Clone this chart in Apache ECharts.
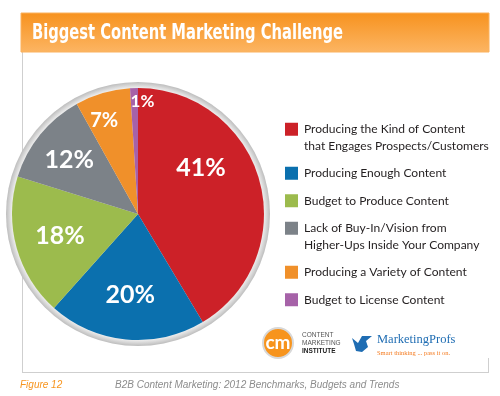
<!DOCTYPE html>
<html>
<head>
<meta charset="utf-8">
<script src="https://cdn.jsdelivr.net/npm/echarts@6/dist/echarts.min.js"></script>
<style>html,body{margin:0;padding:0;background:#fff;}#c{width:500px;height:396px;}</style>
</head>
<body>
<div id="c"></div>
<script>
// ---- data ----
var categories = [
  'Producing the Kind of Content\nthat Engages Prospects/Customers',
  'Producing Enough Content',
  'Budget to Produce Content',
  'Lack of Buy-In/Vision from\nHigher-Ups Inside Your Company',
  'Producing a Variety of Content',
  'Budget to License Content'
];
var values = [41, 20, 18, 12, 7, 1];
var titleText = 'Biggest Content Marketing Challenge';
var figureText = 'Figure 12';
var sourceText = 'B2B Content Marketing: 2012 Benchmarks, Budgets and Trends';

// ---- styles ----
var colors = ['#cc2128', '#0b70ae', '#9cbb4d', '#7c8288', '#f0902a', '#a662a8'];
var labelSizes = [25, 25, 25, 25, 20, 17];
var labelOffsets = [[-15, -24], [0, 0], [0, 0], [-6, -3], [-11, -16], [7, -32]];
var narrow = "'DejaVu Sans Condensed', 'Liberation Sans Narrow', sans-serif";
var center = [138, 214];
var LH = 16.5;

// width-fit helpers
var cnv = document.createElement('canvas').getContext('2d');
function textW(text, font) { cnv.font = font; return cnv.measureText(text).width; }
var titleFont = 'bold 22px ' + narrow;
var titleScale = 311 / (textW(titleText, titleFont) || 311);

var legendLongest = 'that Engages Prospects/Customers';
var fams = ["'DejaVu Sans Condensed'", 'Lato', "'Liberation Sans'", 'Roboto', "'Noto Sans'", 'Inter'];
var legendFam = fams[0], best = 1e9;
fams.forEach(function (f) {
  var w = textW(legendLongest, '14px ' + f + ', sans-serif');
  if (w < best) { best = w; legendFam = f; }
});
var legendSize = Math.min(14.5, 14 * 185 / best);

var chart = echarts.init(document.getElementById('c'), null, {renderer: 'canvas'});

var rich = {
  g: {width: 6, height: 13, lineHeight: LH},
  sp: {width: 19, lineHeight: LH},
  t: {fontSize: legendSize, fontFamily: legendFam + ', sans-serif', color: '#231f20', lineHeight: LH}
};
colors.forEach(function (c, i) { rich['c' + i] = {width: 13, height: 13, lineHeight: LH, backgroundColor: c}; });

var mainData = categories.map(function (n, i) {
  return {name: n, value: values[i], itemStyle: {color: colors[i]}};
});
var labelData = categories.map(function (n, i) {
  return {
    name: n, value: values[i],
    label: {fontSize: labelSizes[i], offset: labelOffsets[i]}
  };
});

var option = {
  animation: false,
  legend: {
    data: categories,
    orient: 'vertical',
    left: 275, top: 116,
    itemGap: 11,
    itemWidth: 0, itemHeight: 0,
    selectedMode: false,
    formatter: function (name) {
      var i = categories.indexOf(name);
      var lines = name.split('\n');
      var s = '{c' + i + '|}{g|}{t|' + lines[0] + '}';
      for (var k = 1; k < lines.length; k++) s += '\n{sp|}{t|' + lines[k] + '}';
      return s;
    },
    textStyle: {rich: rich, lineHeight: LH}
  },
  graphic: [
    {type: 'line', z: 0, shape: {x1: 22.5, y1: 52, x2: 22.5, y2: 372.5}, style: {stroke: '#cfcfcf', lineWidth: 1}},
    {type: 'line', z: 0, shape: {x1: 22, y1: 372.5, x2: 489, y2: 372.5}, style: {stroke: '#cfcfcf', lineWidth: 1}},
    {type: 'line', z: 0, shape: {x1: 488.5, y1: 358, x2: 488.5, y2: 372.5}, style: {stroke: '#cfcfcf', lineWidth: 1}},
    {type: 'rect', z: 0, shape: {x: 21, y: 13, width: 468, height: 39},
      style: {fill: new echarts.graphic.LinearGradient(0, 0, 0, 1, [
        {offset: 0, color: '#f7921e'}, {offset: 1, color: '#fcb563'}]),
        stroke: '#fbb25f', lineWidth: 1}},
    {type: 'text', z: 1, x: 32, y: 33, scaleX: titleScale,
      style: {text: titleText, fill: '#ffffff', font: titleFont, verticalAlign: 'middle'}},
    // CMI logo
    {type: 'circle', z: 1, shape: {cx: 278, cy: 343, r: 15}, style: {fill: '#f7941d', stroke: '#d8d8d8', lineWidth: 2}},
    {type: 'text', z: 2, x: 278, y: 343, style: {text: 'cm', fill: '#fff', font: 'bold 19px Lato, sans-serif', align: 'center', verticalAlign: 'middle'}},
    {type: 'text', z: 1, x: 302, y: 335, style: {text: 'CONTENT', fill: '#555', font: '6.5px "Liberation Sans", sans-serif', verticalAlign: 'middle'}},
    {type: 'text', z: 1, x: 302, y: 343, style: {text: 'MARKETING', fill: '#555', font: '6.5px "Liberation Sans", sans-serif', verticalAlign: 'middle'}},
    {type: 'text', z: 1, x: 302, y: 351, style: {text: 'INSTITUTE', fill: '#222', font: 'bold 6.5px "Liberation Sans", sans-serif', verticalAlign: 'middle'}},
    // MarketingProfs logo
    {type: 'polygon', z: 1, shape: {points: [[352, 338], [358, 343], [362, 336], [372, 336], [366, 341], [368, 347], [362, 352], [356, 351], [354, 344]]}, style: {fill: '#1f6db3'}},
    {type: 'text', z: 1, x: 377, y: 340, style: {text: 'MarketingProfs', fill: '#1f6db3', font: '12.5px "Liberation Serif", serif', verticalAlign: 'middle'}},
    {type: 'text', z: 1, x: 377, y: 353, style: {text: 'Smart thinking ... pass it on.', fill: '#f47b20', font: '6.5px "Liberation Serif", serif', verticalAlign: 'middle'}},
    // footer
    {type: 'text', z: 1, x: 20, y: 385, style: {text: figureText, fill: '#f7941d', font: 'italic 10px "Liberation Sans", sans-serif', verticalAlign: 'middle'}},
    {type: 'text', z: 1, x: 115, y: 385, style: {text: sourceText, fill: '#8c8c8c', font: 'italic 10px "Liberation Sans", sans-serif', verticalAlign: 'middle'}}
  ],
  series: [
    {
      type: 'pie', name: 'ring', z: 2, silent: true, center: center, radius: [0, 132],
      label: {show: false}, labelLine: {show: false},
      itemStyle: {color: new echarts.graphic.RadialGradient(0.5, 0.5, 0.5, [
        {offset: 0, color: '#f2f2f2'}, {offset: 0.95, color: '#f2f2f2'}, {offset: 1, color: '#bdbdbd'}])},
      data: [{name: 'ring', value: 1}]
    },
    {
      type: 'pie', name: 'main', z: 3, silent: true, center: center, radius: [0, 126],
      startAngle: 90, clockwise: true,
      label: {show: false}, labelLine: {show: false},
      data: mainData
    },
    {
      type: 'pie', name: 'labels', z: 4, silent: true, center: center, radius: [30, 126],
      startAngle: 90, clockwise: true,
      itemStyle: {color: 'rgba(0,0,0,0)'},
      labelLine: {show: false},
      label: {
        show: true, position: 'inside', color: '#fff', fontWeight: 'bold',
        fontFamily: 'Lato, sans-serif',
        formatter: function (p) { return p.value + '%'; }
      },
      data: labelData
    }
  ]
};
chart.setOption(option);
</script>
</body>
</html>
